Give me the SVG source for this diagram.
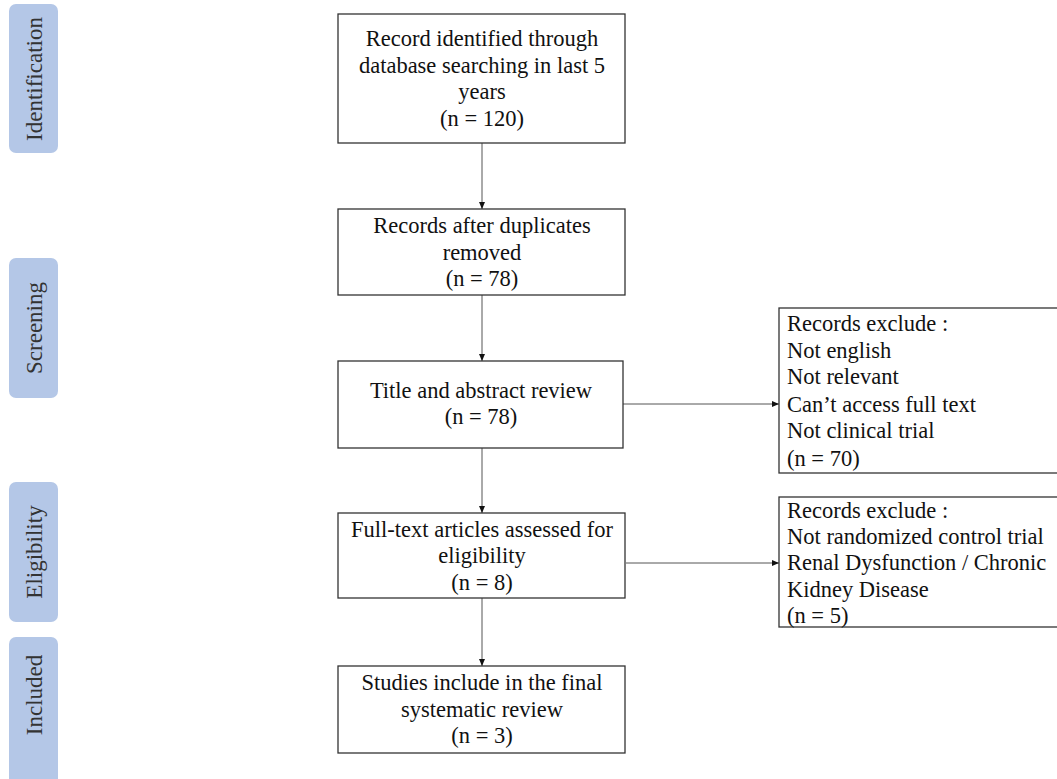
<svg xmlns="http://www.w3.org/2000/svg" width="1057" height="779" viewBox="0 0 1057 779">
<style>
.box{fill:#fff;stroke:#333;stroke-width:1.3}
.side{fill:#B4C7E7}
.t{font-family:"Liberation Serif","Times New Roman",serif;font-size:22.5px;fill:#111}
.c{text-anchor:middle}
.st{font-family:"Liberation Serif","Times New Roman",serif;font-size:23px;fill:#333;text-anchor:middle}
.ln{stroke:#555;stroke-width:1;fill:none}
</style>
<defs>
<marker id="ah" markerWidth="8" markerHeight="8" refX="7" refY="4" orient="auto" markerUnits="userSpaceOnUse">
<path d="M0,1 L7,4 L0,7 Z" fill="#111"/>
</marker>
</defs>
<g id="side-identification"><rect class="side" x="9" y="4" width="49" height="149" rx="7"/><text class="st" transform="translate(42,79) rotate(-90)">Identification</text></g>
<g id="side-screening"><rect class="side" x="9" y="258" width="49" height="140" rx="7"/><text class="st" transform="translate(42,328) rotate(-90)">Screening</text></g>
<g id="side-eligibility"><rect class="side" x="9" y="482" width="49" height="140" rx="7"/><text class="st" transform="translate(42,552) rotate(-90)">Eligibility</text></g>
<g id="side-included"><rect class="side" x="9" y="637" width="49" height="150" rx="7"/><text class="st" transform="translate(42,695) rotate(-90)">Included</text></g>
<g id="connectors">
<line class="ln" x1="482" y1="143" x2="482" y2="209" marker-end="url(#ah)"/>
<line class="ln" x1="482" y1="295" x2="482" y2="361" marker-end="url(#ah)"/>
<line class="ln" x1="482" y1="448" x2="482" y2="513" marker-end="url(#ah)"/>
<line class="ln" x1="482" y1="598" x2="482" y2="666" marker-end="url(#ah)"/>
<line class="ln" x1="623" y1="404" x2="779" y2="404" marker-end="url(#ah)"/>
<line class="ln" x1="626" y1="563" x2="779" y2="563" marker-end="url(#ah)"/>
</g>
<g id="n1"><rect class="box" x="338" y="14" width="287" height="129"/>
<text class="t c" x="482" y="46">Record identified through</text>
<text class="t c" x="482" y="73">database searching in last 5</text>
<text class="t c" x="482" y="99">years</text>
<text class="t c" x="482" y="126">(n = 120)</text></g>
<g id="n2"><rect class="box" x="338" y="209" width="287" height="86"/>
<text class="t c" x="482" y="233">Records after duplicates</text>
<text class="t c" x="482" y="260">removed</text>
<text class="t c" x="482" y="286">(n = 78)</text></g>
<g id="n3"><rect class="box" x="338" y="361" width="285" height="87"/>
<text class="t c" x="481" y="398">Title and abstract review</text>
<text class="t c" x="481" y="424">(n = 78)</text></g>
<g id="n4"><rect class="box" x="338" y="513" width="287" height="85"/>
<text class="t c" x="482" y="537">Full-text articles assessed for</text>
<text class="t c" x="482" y="563">eligibility</text>
<text class="t c" x="482" y="590">(n = 8)</text></g>
<g id="n5"><rect class="box" x="338" y="666" width="287" height="87"/>
<text class="t c" x="482" y="690">Studies include in the final</text>
<text class="t c" x="482" y="717">systematic review</text>
<text class="t c" x="482" y="743">(n = 3)</text></g>
<g id="x1"><rect class="box" x="779" y="308" width="290" height="165"/>
<text class="t" x="787" y="331">Records exclude :</text>
<text class="t" x="787" y="358">Not english</text>
<text class="t" x="787" y="384">Not relevant</text>
<text class="t" x="787" y="412">Can’t access full text</text>
<text class="t" x="787" y="438">Not clinical trial</text>
<text class="t" x="787" y="466">(n = 70)</text></g>
<g id="x2"><rect class="box" x="779" y="497" width="290" height="130"/>
<text class="t" x="787" y="518">Records exclude :</text>
<text class="t" x="787" y="544">Not randomized control trial</text>
<text class="t" x="787" y="570">Renal Dysfunction / Chronic</text>
<text class="t" x="787" y="597">Kidney Disease</text>
<text class="t" x="787" y="623">(n = 5)</text></g>
</svg>
